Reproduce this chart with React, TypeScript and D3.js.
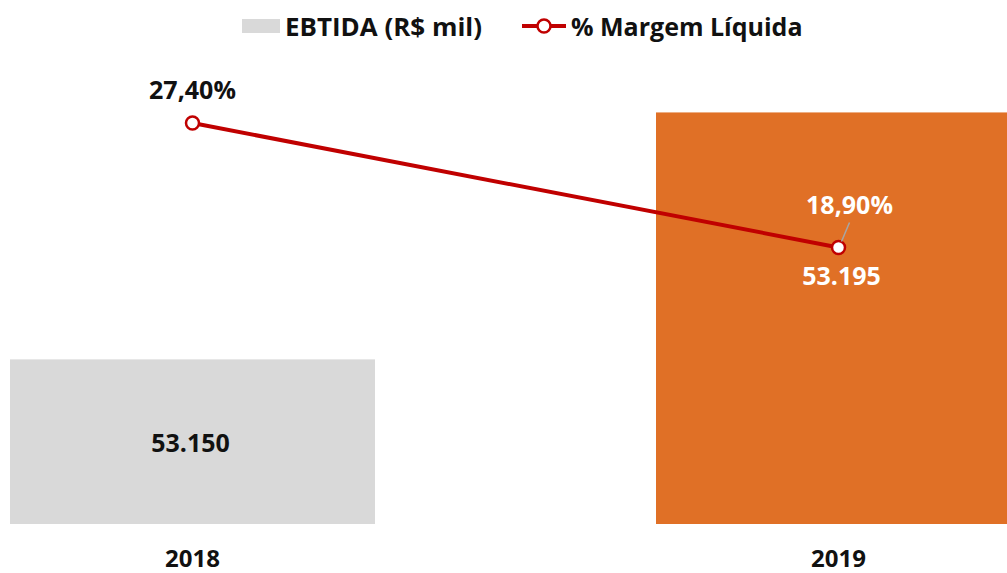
import React from "react";
import * as d3 from "d3";

const categories = ["2018", "2019"];
const ebitda = [53150, 53195];
const ebitdaLabels = ["53.150", "53.195"];
const margem = [27.4, 18.9];
const margemLabels = ["27,40%", "18,90%"];
const barColors = ["#D9D9D9", "#E07026"];

const W = 1007;
const H = 573;
const FONT = "'Open Sans', 'Noto Sans', sans-serif";

export default function App() {
  const x = d3.scalePoint<string>().domain(categories).range([192.5, 838.5]);
  const barW = 365;
  const yBar = d3.scaleLinear().domain([53120, 53200]).range([524, 85]);
  const yLine = d3.scaleLinear().domain([0, 30]).range([524, 85]);
  const line = d3
    .line<number>()
    .x((_, i) => x(categories[i])!)
    .y((d) => yLine(d));

  return (
    <svg
      width={W}
      height={H}
      style={{ position: "absolute", left: 0, top: 0, background: "#fff" }}
      fontFamily={FONT}
      fontWeight="bold"
    >
      {/* bars */}
      {ebitda.map((v, i) => (
        <rect
          key={i}
          x={x(categories[i])! - barW / 2}
          y={yBar(v)}
          width={barW}
          height={yBar(53120) - yBar(v)}
          fill={barColors[i]}
        />
      ))}
      {/* bar labels */}
      <text
        x={x(categories[0])! - 2}
        y={(yBar(ebitda[0]) + yBar(53120)) / 2}
        textAnchor="middle"
        dominantBaseline="central"
        fontSize={25}
        fill="#111"
      >
        {ebitdaLabels[0]}
      </text>
      <text
        x={x(categories[1])! + 3}
        y={yLine(margem[1]) + 28}
        textAnchor="middle"
        dominantBaseline="central"
        fontSize={25}
        fill="#fff"
      >
        {ebitdaLabels[1]}
      </text>
      {/* line */}
      <path d={line(margem) || ""} fill="none" stroke="#C00000" strokeWidth={4} />
      {margem.map((v, i) => (
        <circle
          key={i}
          cx={x(categories[i])!}
          cy={yLine(v)}
          r={6.5}
          fill="#fff"
          stroke="#C00000"
          strokeWidth={2.5}
        />
      ))}
      {/* line labels */}
      <text
        x={x(categories[0])!}
        y={yLine(margem[0]) - 34}
        textAnchor="middle"
        dominantBaseline="central"
        fontSize={25}
        fill="#111"
      >
        {margemLabels[0]}
      </text>
      <line
        x1={x(categories[1])! + 11}
        y1={yLine(margem[1]) - 25}
        x2={x(categories[1])! + 3}
        y2={yLine(margem[1]) - 6}
        stroke="#A6A6A6"
        strokeWidth={1.5}
      />
      <text
        x={x(categories[1])! + 11}
        y={yLine(margem[1]) - 43}
        textAnchor="middle"
        dominantBaseline="central"
        fontSize={25}
        fill="#fff"
      >
        {margemLabels[1]}
      </text>
      {/* category axis labels */}
      {categories.map((c) => (
        <text
          key={c}
          x={x(c)!}
          y={557}
          textAnchor="middle"
          dominantBaseline="central"
          fontSize={24}
          fill="#111"
        >
          {c}
        </text>
      ))}
      {/* legend */}
      <rect x={242} y={19} width={38} height={14} fill={barColors[0]} />
      <text x={285} y={26} dominantBaseline="central" fontSize={25} fill="#111" textLength={197} lengthAdjust="spacingAndGlyphs">
        EBTIDA (R$ mil)
      </text>
      <line x1={522} y1={26} x2={566} y2={26} stroke="#C00000" strokeWidth={4} />
      <circle cx={544} cy={26} r={6.5} fill="#fff" stroke="#C00000" strokeWidth={2.5} />
      <text x={571} y={26} dominantBaseline="central" fontSize={25} fill="#111">
        % Margem Líquida
      </text>
    </svg>
  );
}
